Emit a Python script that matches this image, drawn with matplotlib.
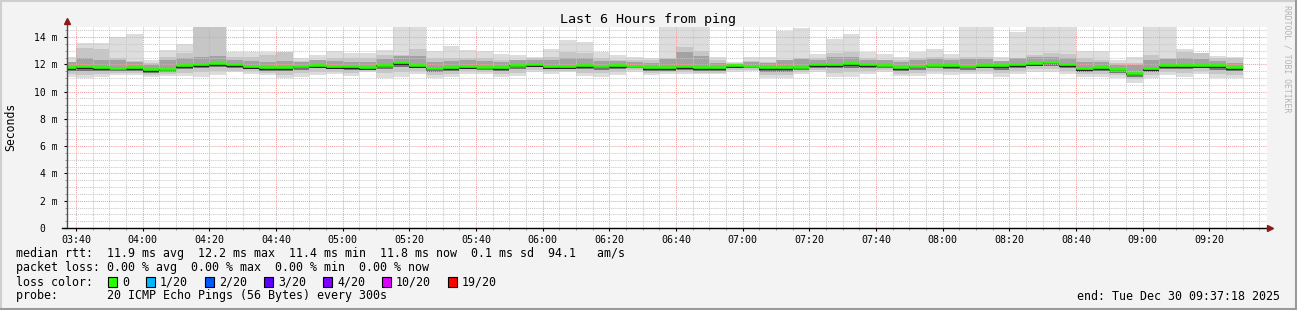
import matplotlib
matplotlib.use("Agg")
import matplotlib.pyplot as plt
from matplotlib.lines import Line2D
from matplotlib.patches import Rectangle
from matplotlib.ticker import MultipleLocator, FixedLocator
from matplotlib.transforms import ScaledTranslation

W, H = 1297, 310

# 5-minute bins, bin i covers [03:35 + 5i, 03:40 + 5i] (minutes after midnight)
bin_start = [215 + 5 * i for i in range(71)]

# median rtt per bin (ms)
med = [11.78, 11.85, 11.78, 11.75, 11.78, 11.63, 11.68, 11.92, 12.02, 12.07,
       12.00, 11.87, 11.78, 11.78, 11.90, 11.95, 11.87, 11.85, 11.78, 11.97,
       12.17, 11.95, 11.75, 11.80, 11.87, 11.82, 11.80, 11.97, 12.02, 11.85,
       11.85, 11.95, 11.90, 11.95, 11.90, 11.78, 11.78, 11.85, 11.78, 11.78,
       11.95, 11.90, 11.78, 11.78, 11.82, 12.00, 12.00, 12.07, 12.02, 11.97,
       11.78, 11.90, 11.97, 11.95, 11.90, 11.95, 11.92, 12.02, 12.07, 12.19,
       12.00, 11.73, 11.78, 11.68, 11.38, 11.73, 11.92, 11.95, 11.95, 11.92,
       11.80]

# slowest ping per bin
hi = [12.53, 13.58, 13.54, 13.98, 14.22, 12.31, 13.05, 13.49, 15.40, 15.10,
      12.92, 12.88, 12.92, 12.92, 12.48, 12.68, 13.00, 12.85, 12.80, 13.05,
      15.30, 15.00, 12.97, 13.34, 13.05, 12.97, 12.75, 12.68, 12.56, 13.12,
      13.78, 13.61, 12.92, 12.68, 12.53, 12.44, 15.20, 15.60, 15.00, 12.56,
      12.19, 12.51, 12.51, 14.46, 14.64, 12.73, 13.85, 14.22, 12.92, 12.73,
      12.56, 12.92, 13.12, 12.73, 15.30, 15.00, 12.56, 14.39, 15.20, 15.00,
      15.10, 12.97, 12.97, 12.31, 12.51, 15.20, 15.00, 13.12, 12.85, 12.63,
      12.56]

# 2nd slowest pings (90th percentile)
p90 = [12.19, 13.17, 13.12, 12.44, 12.22, 12.07, 12.51, 12.80, 15.00, 15.00,
       12.56, 12.56, 12.68, 12.88, 12.24, 12.31, 12.44, 12.44, 12.44, 12.68,
       12.70, 13.10, 12.44, 12.44, 12.48, 12.44, 12.31, 12.31, 12.44, 12.56,
       12.92, 12.80, 12.44, 12.31, 12.31, 12.31, 12.44, 13.29, 12.97, 12.31,
       12.07, 12.24, 12.19, 12.31, 12.44, 12.44, 12.80, 12.92, 12.44, 12.31,
       12.31, 12.44, 12.56, 12.44, 12.56, 12.56, 12.28, 12.50, 12.68, 12.80,
       12.73, 12.44, 12.31, 12.07, 12.07, 12.68, 12.44, 12.92, 12.80, 12.44,
       12.44]

# upper quartile
q3 = [12.15, 12.45, 12.35, 12.30, 12.20, 11.95, 12.30, 12.45, 12.55, 12.65,
      12.35, 12.25, 12.20, 12.25, 12.15, 12.30, 12.25, 12.20, 12.15, 12.40,
      12.60, 12.60, 12.15, 12.25, 12.30, 12.25, 12.20, 12.30, 12.30, 12.30,
      12.45, 12.45, 12.25, 12.25, 12.20, 12.10, 12.40, 12.90, 12.60, 12.10,
      12.05, 12.20, 12.10, 12.30, 12.40, 12.35, 12.55, 12.55, 12.35, 12.30,
      12.15, 12.30, 12.40, 12.35, 12.40, 12.40, 12.25, 12.45, 12.55, 12.55,
      12.45, 12.20, 12.15, 11.95, 11.95, 12.35, 12.40, 12.45, 12.40, 12.25,
      12.10]

# lower quartile
q1 = [11.55, 11.50, 11.55, 11.50, 11.55, 11.40, 11.45, 11.65, 11.75, 11.80,
      11.75, 11.65, 11.55, 11.50, 11.60, 11.70, 11.65, 11.60, 11.65, 11.65,
      11.80, 11.70, 11.45, 11.55, 11.65, 11.60, 11.50, 11.65, 11.80, 11.65,
      11.70, 11.65, 11.60, 11.65, 11.70, 11.55, 11.55, 11.60, 11.55, 11.55,
      11.75, 11.70, 11.45, 11.45, 11.60, 11.75, 11.70, 11.75, 11.75, 11.75,
      11.50, 11.60, 11.70, 11.65, 11.60, 11.70, 11.60, 11.75, 11.85, 11.90,
      11.70, 11.45, 11.50, 11.40, 11.10, 11.45, 11.65, 11.65, 11.70, 11.60,
      11.50]

# 2nd fastest pings (10th percentile)
p10 = [11.30, 11.25, 11.30, 11.35, 11.38, 11.25, 11.30, 11.40, 11.45, 11.50,
       11.55, 11.48, 11.40, 11.25, 11.35, 11.45, 11.45, 11.38, 11.55, 11.35,
       11.45, 11.50, 11.20, 11.30, 11.50, 11.45, 11.30, 11.40, 11.62, 11.48,
       11.55, 11.40, 11.35, 11.45, 11.58, 11.38, 11.42, 11.45, 11.40, 11.40,
       11.60, 11.60, 11.20, 11.20, 11.45, 11.60, 11.40, 11.42, 11.55, 11.60,
       11.32, 11.35, 11.50, 11.42, 11.42, 11.50, 11.35, 11.50, 11.65, 11.65,
       11.48, 11.28, 11.30, 11.22, 10.90, 11.22, 11.42, 11.38, 11.48, 11.30,
       11.25]

# fastest ping per bin
lo = [11.05, 10.97, 11.04, 11.21, 11.21, 11.09, 11.14, 11.16, 11.09, 11.21,
      11.41, 11.33, 11.21, 10.97, 11.09, 11.21, 11.26, 11.16, 11.46, 10.97,
      11.09, 11.33, 10.97, 11.09, 11.33, 11.33, 11.09, 11.16, 11.46, 11.33,
      11.41, 11.14, 11.09, 11.21, 11.46, 11.21, 11.28, 11.33, 11.26, 11.26,
      11.46, 11.51, 10.97, 10.97, 11.33, 11.46, 11.09, 11.09, 11.33, 11.46,
      11.16, 11.14, 11.33, 11.21, 11.26, 11.33, 11.09, 11.26, 11.46, 11.41,
      11.26, 11.09, 11.09, 11.02, 10.67, 11.00, 11.21, 11.09, 11.26, 10.97,
      10.97]

loss_labels = ["0", "1/20", "2/20", "3/20", "4/20", "10/20", "19/20"]
loss_colors = ["#26ff00", "#00b8ff", "#0059ff", "#5e00ff", "#7e00ff", "#dd00ff", "#ff0000"]

t_start, t_end = 217.3, 577.3   # 03:37:18 .. 09:37:18
y_max = 14.74

plt.rcParams['font.family'] = "DejaVu Sans Mono"

fig = plt.figure(figsize=(W / 100, H / 100), dpi=100, facecolor="#f3f3f3")
ax = fig.add_axes([67 / W, (H - 228) / H, 1200 / W, 201 / H])
ax.set_facecolor("white")
ax.set_xlim(t_start, t_end)
ax.set_ylim(0, y_max)


def band(bottom, top, color):
    ax.bar(bin_start, [t - b for b, t in zip(bottom, top)], width=5, bottom=bottom,
           align="edge", color=color, linewidth=0, zorder=1)


# smoke, outer to inner
band(lo, hi, "#dddddd")
band(p10, p90, "#c6c6c6")
band(q1, q3, "#a2a2a2")
band(q1, med, "#767676")

# median line, coloured by loss (no loss here), dark edge below it
ends = [s + 5 for s in bin_start]
ax.hlines(med, bin_start, ends, colors="#202020", linewidth=1.3, zorder=3,
          transform=ax.transData + ScaledTranslation(0, -1.6 / 100, fig.dpi_scale_trans))
ax.hlines(med, bin_start, ends, colors=loss_colors[0], linewidth=1.9, zorder=3.5)

# grid
ax.set_axisbelow(False)
ax.xaxis.set_minor_locator(MultipleLocator(5))
ax.yaxis.set_minor_locator(MultipleLocator(0.5))
xt = list(range(220, 577, 20))
ax.xaxis.set_major_locator(FixedLocator(xt))
ax.set_xticklabels(["%02d:%02d" % (t // 60, t % 60) for t in xt], fontsize=7.2)
yt = list(range(0, 15, 2))
ax.yaxis.set_major_locator(FixedLocator(yt))
ax.set_yticklabels(["0  " if v == 0 else "%d m" % v for v in yt], fontsize=7)
ax.grid(which="minor", color="#c8c8c8", linestyle=(0, (1, 1)), linewidth=0.75)
ax.grid(which="major", color="#f0a0a0", linestyle=(0, (1, 1)), linewidth=0.75)
ax.tick_params(axis="x", which="major", length=2, width=0.8, pad=3, colors="black")
ax.tick_params(axis="x", which="minor", length=1.5, width=0.6, color="#888888")
ax.tick_params(axis="y", which="major", length=2, width=0.8, pad=5, colors="black")
ax.tick_params(axis="y", which="minor", length=1.5, width=0.6, color="#888888")

for s in ["top", "right", "left", "bottom"]:
    ax.spines[s].set_visible(False)

# axis lines with arrows
ax.plot([0, 0], [0, 1 + 6 / 201], transform=ax.transAxes, color="#505050",
        linewidth=1, clip_on=False, zorder=4)
ax.plot([-5 / 1200, 1 + 1 / 1200], [0, 0], transform=ax.transAxes, color="black",
        linewidth=1, clip_on=False, zorder=4)
ax.plot([0], [1 + 6 / 201], marker="^", markersize=4, color="#8b1a1a",
        transform=ax.transAxes, clip_on=False, zorder=5)
ax.plot([1 + 3 / 1200], [0], marker=">", markersize=4, color="#8b1a1a",
        transform=ax.transAxes, clip_on=False, zorder=5)

fig.text(11 / W, 1 - 127 / H, "Seconds", rotation=90, ha="center", va="center",
         fontsize=8.3)
fig.text(648 / W, 1 - 19 / H, "Last 6 Hours from ping", ha="center", va="center",
         fontsize=9.6)
fig.text(1287 / W, 1 - 59 / H, "RRDTOOL / TOBI OETIKER", rotation=270,
         ha="center", va="center", fontsize=5.9, color="#b4b4b4")

fs = 8.4
fig.text(16 / W, 1 - 254 / H,
         "median rtt:  11.9 ms avg  12.2 ms max  11.4 ms min  11.8 ms now  0.1 ms sd  94.1   am/s",
         va="center", fontsize=fs)
fig.text(16 / W, 1 - 268 / H,
         "packet loss: 0.00 % avg  0.00 % max  0.00 % min  0.00 % now",
         va="center", fontsize=fs)
fig.text(16 / W, 1 - 282 / H, "loss color:", va="center", fontsize=fs)
fig.text(16 / W, 1 - 296 / H,
         "probe:       20 ICMP Echo Pings (56 Bytes) every 300s",
         va="center", fontsize=fs)
fig.text(1280 / W, 1 - 296 / H, "end: Tue Dec 30 09:37:18 2025",
         ha="right", va="center", fontsize=fs)

x = 108
for lab, col in zip(loss_labels, loss_colors):
    fig.patches.append(Rectangle((x / W, 1 - 287 / H), 9 / W, 10 / H,
                                 transform=fig.transFigure, facecolor=col,
                                 edgecolor="black", linewidth=0.8))
    fig.text((x + 14) / W, 1 - 282 / H, lab, va="center", fontsize=fs)
    x += 14 + 7 * len(lab) + 17

# frame
fig.add_artist(Line2D([0, 1], [1 - 1 / H, 1 - 1 / H], color="#cfcfcf", linewidth=1.5))
fig.add_artist(Line2D([1 / W, 1 / W], [0, 1], color="#cfcfcf", linewidth=1.5))
fig.add_artist(Line2D([0, 1], [1 / H, 1 / H], color="#9a9a9a", linewidth=1.5))
fig.add_artist(Line2D([1 - 1 / W, 1 - 1 / W], [0, 1], color="#9a9a9a", linewidth=1.5))

fig.savefig("out.png", dpi=100, facecolor=fig.get_facecolor())
